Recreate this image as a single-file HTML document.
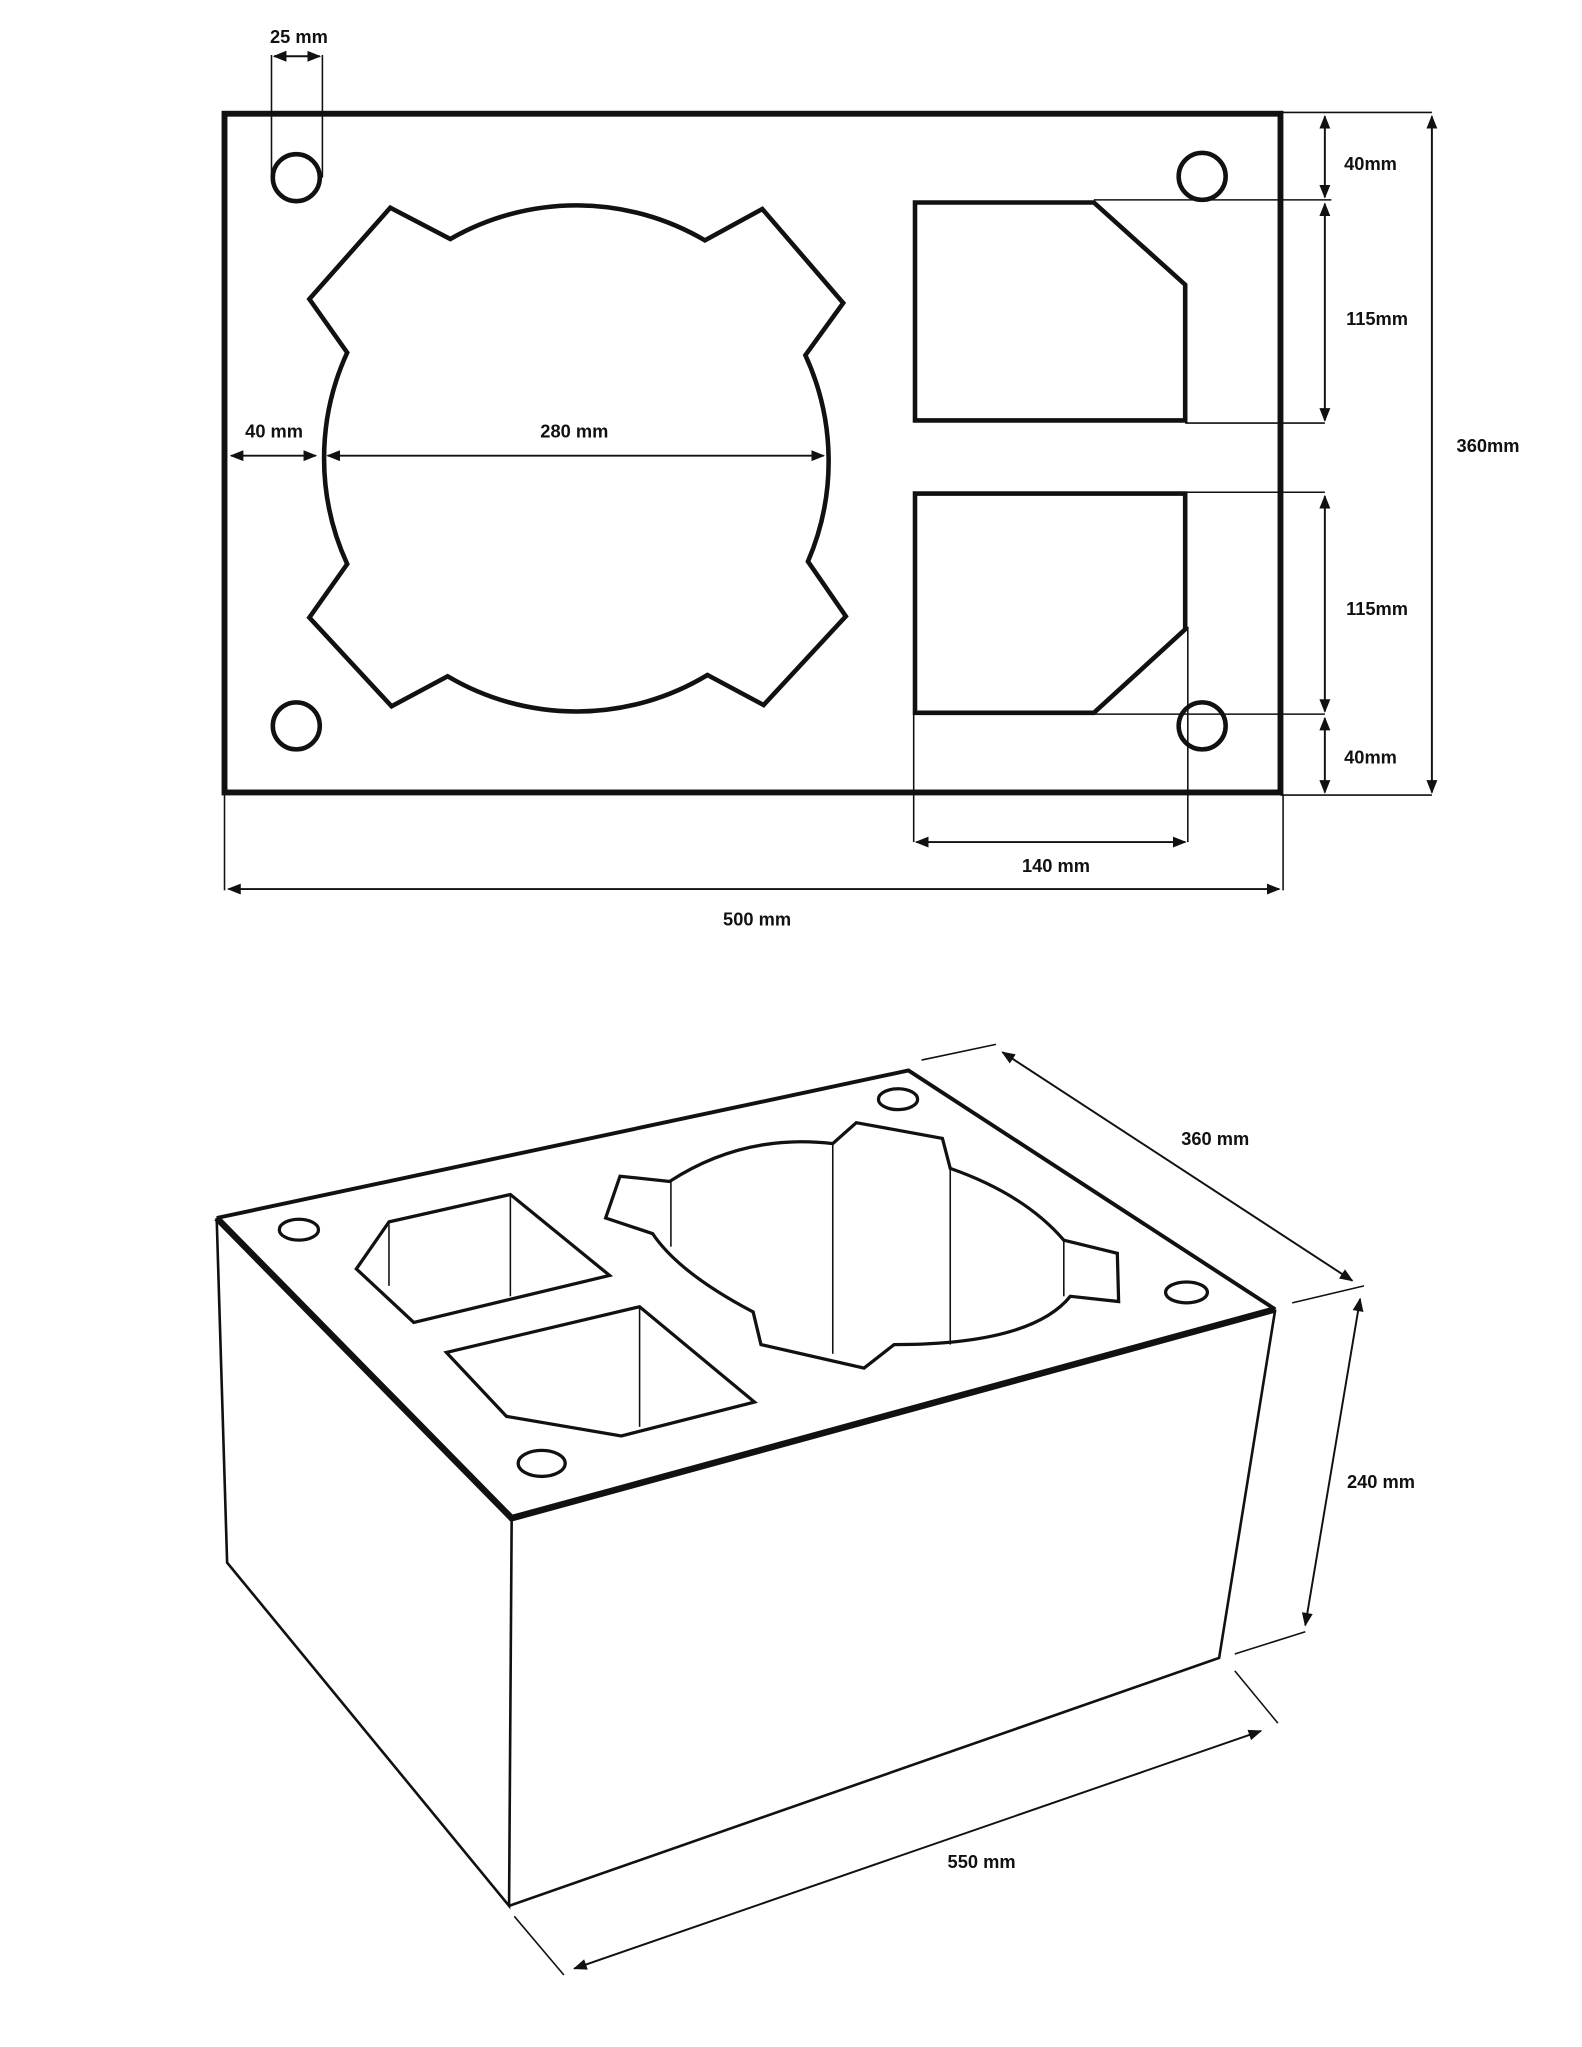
<!DOCTYPE html>
<html><head><meta charset="utf-8"><style>
html,body{margin:0;padding:0;background:#fff}
svg{display:block}
text{font-family:"Liberation Sans",sans-serif;font-size:14px;fill:#111;text-anchor:middle;font-weight:bold}
</style></head><body>
<svg width="1582" height="2047" viewBox="0 0 1212 1568" xmlns="http://www.w3.org/2000/svg">
<defs>
<marker id="a" viewBox="0 0 10 10" refX="9" refY="5" markerWidth="7" markerHeight="7" orient="auto-start-reverse"><path d="M0,1 L10,5 L0,9 z" fill="#111"/></marker>
</defs>
<g fill="none" stroke="#111">
<!-- top plan -->
<rect x="172" y="87" width="809" height="520" stroke-width="4.5"/>
<g stroke-width="3.5">
<circle cx="227" cy="136" r="18"/><circle cx="921" cy="135" r="18"/>
<circle cx="227" cy="556" r="18"/><circle cx="921" cy="556" r="18"/>
<path d="M345,183 A194,194 0 0 1 540,184 L584,160 L646,232 L617,272 A194,194 0 0 1 619,430 L648,472 L585,540 L542,517 A194,194 0 0 1 343,518 L300,541 L237,473 L266,432 A194,194 0 0 1 266,270 L237,229 L299,159 Z"/>
<path d="M701,155 L838,155 L908,218 L908,322 L701,322 Z"/>
<path d="M701,378 L908,378 L908,482 L838,546 L701,546 Z"/>
</g>
<g stroke-width="1.2">
<line x1="208" y1="42" x2="208" y2="136"/><line x1="247" y1="42" x2="247" y2="136"/>
<line x1="981" y1="86" x2="1097" y2="86"/><line x1="838" y1="153" x2="1020" y2="153"/>
<line x1="908" y1="324" x2="1015" y2="324"/><line x1="908" y1="377" x2="1015" y2="377"/>
<line x1="838" y1="547" x2="1015" y2="547"/><line x1="981" y1="609" x2="1097" y2="609"/>
<line x1="172" y1="609" x2="172" y2="682"/><line x1="983" y1="609" x2="983" y2="682"/>
<line x1="700" y1="546" x2="700" y2="645"/><line x1="910" y1="480" x2="910" y2="645"/>
</g>
<g stroke-width="1.5" marker-start="url(#a)" marker-end="url(#a)">
<line x1="210" y1="43" x2="245" y2="43"/>
<line x1="1015" y1="89" x2="1015" y2="151"/><line x1="1015" y1="156" x2="1015" y2="322"/>
<line x1="1015" y1="380" x2="1015" y2="545"/><line x1="1015" y1="550" x2="1015" y2="607"/>
<line x1="1097" y1="89" x2="1097" y2="607"/>
<line x1="702" y1="645" x2="908" y2="645"/><line x1="175" y1="681" x2="980" y2="681"/>
<line x1="177" y1="349" x2="242" y2="349"/><line x1="251" y1="349" x2="631" y2="349"/>
</g>
<!-- iso -->
<g stroke-width="2">
<path d="M166,933 L174,1197 L390,1460 L392,1163"/>
<path d="M390,1460 L934,1270 L977,1003"/>
</g>
<path d="M166,933 L696,820 L977,1003" stroke-width="3"/>
<path d="M166,933 L392,1163 L977,1003" stroke-width="5"/>
<g stroke-width="2.5">
<ellipse cx="229" cy="942" rx="15" ry="8"/><ellipse cx="688" cy="842" rx="15" ry="8"/>
<ellipse cx="909" cy="990" rx="16" ry="8"/><ellipse cx="415" cy="1121" rx="18" ry="10"/>
<path d="M298,936 L391,915 L467,977 L317,1013 L273,972 Z"/>
<path d="M342,1036 L490,1001 L578,1074 L476,1100 L388,1085 Z"/>
<path d="M513,905 Q570,868 638,876 L656,860 L722,872 L728,895 Q785,915 815,950 L856,960 L857,997 L820,993 Q790,1030 685,1030 L662,1048 L583,1030 L577,1005 Q520,975 500,945 L464,933 L475,901 Z"/>
</g>
<g stroke-width="1.2">
<line x1="391" y1="915" x2="391" y2="993"/><line x1="298" y1="938" x2="298" y2="985"/>
<line x1="490" y1="1001" x2="490" y2="1093"/>
<line x1="638" y1="876" x2="638" y2="1037"/><line x1="728" y1="895" x2="728" y2="1030"/>
<line x1="514" y1="905" x2="514" y2="955"/><line x1="815" y1="950" x2="815" y2="993"/>
<line x1="706" y1="812" x2="763" y2="800"/><line x1="990" y1="998" x2="1045" y2="985"/>
<line x1="946" y1="1267" x2="1000" y2="1250"/>
<line x1="394" y1="1468" x2="432" y2="1513"/><line x1="946" y1="1280" x2="979" y2="1320"/>
</g>
<g stroke-width="1.5" marker-start="url(#a)" marker-end="url(#a)">
<line x1="768" y1="806" x2="1036" y2="981"/>
<line x1="1042" y1="995" x2="1000" y2="1245"/>
<line x1="440" y1="1508" x2="966" y2="1326"/>
</g>
</g>
<text x="229" y="33">25 mm</text>
<text x="1050" y="130">40mm</text>
<text x="1055" y="249">115mm</text>
<text x="1140" y="346">360mm</text>
<text x="1055" y="471">115mm</text>
<text x="1050" y="585">40mm</text>
<text x="809" y="668">140 mm</text>
<text x="580" y="709">500 mm</text>
<text x="210" y="335">40 mm</text>
<text x="440" y="335">280 mm</text>
<text x="931" y="877">360 mm</text>
<text x="1058" y="1140">240 mm</text>
<text x="752" y="1431">550 mm</text>
</svg>
</body></html>
